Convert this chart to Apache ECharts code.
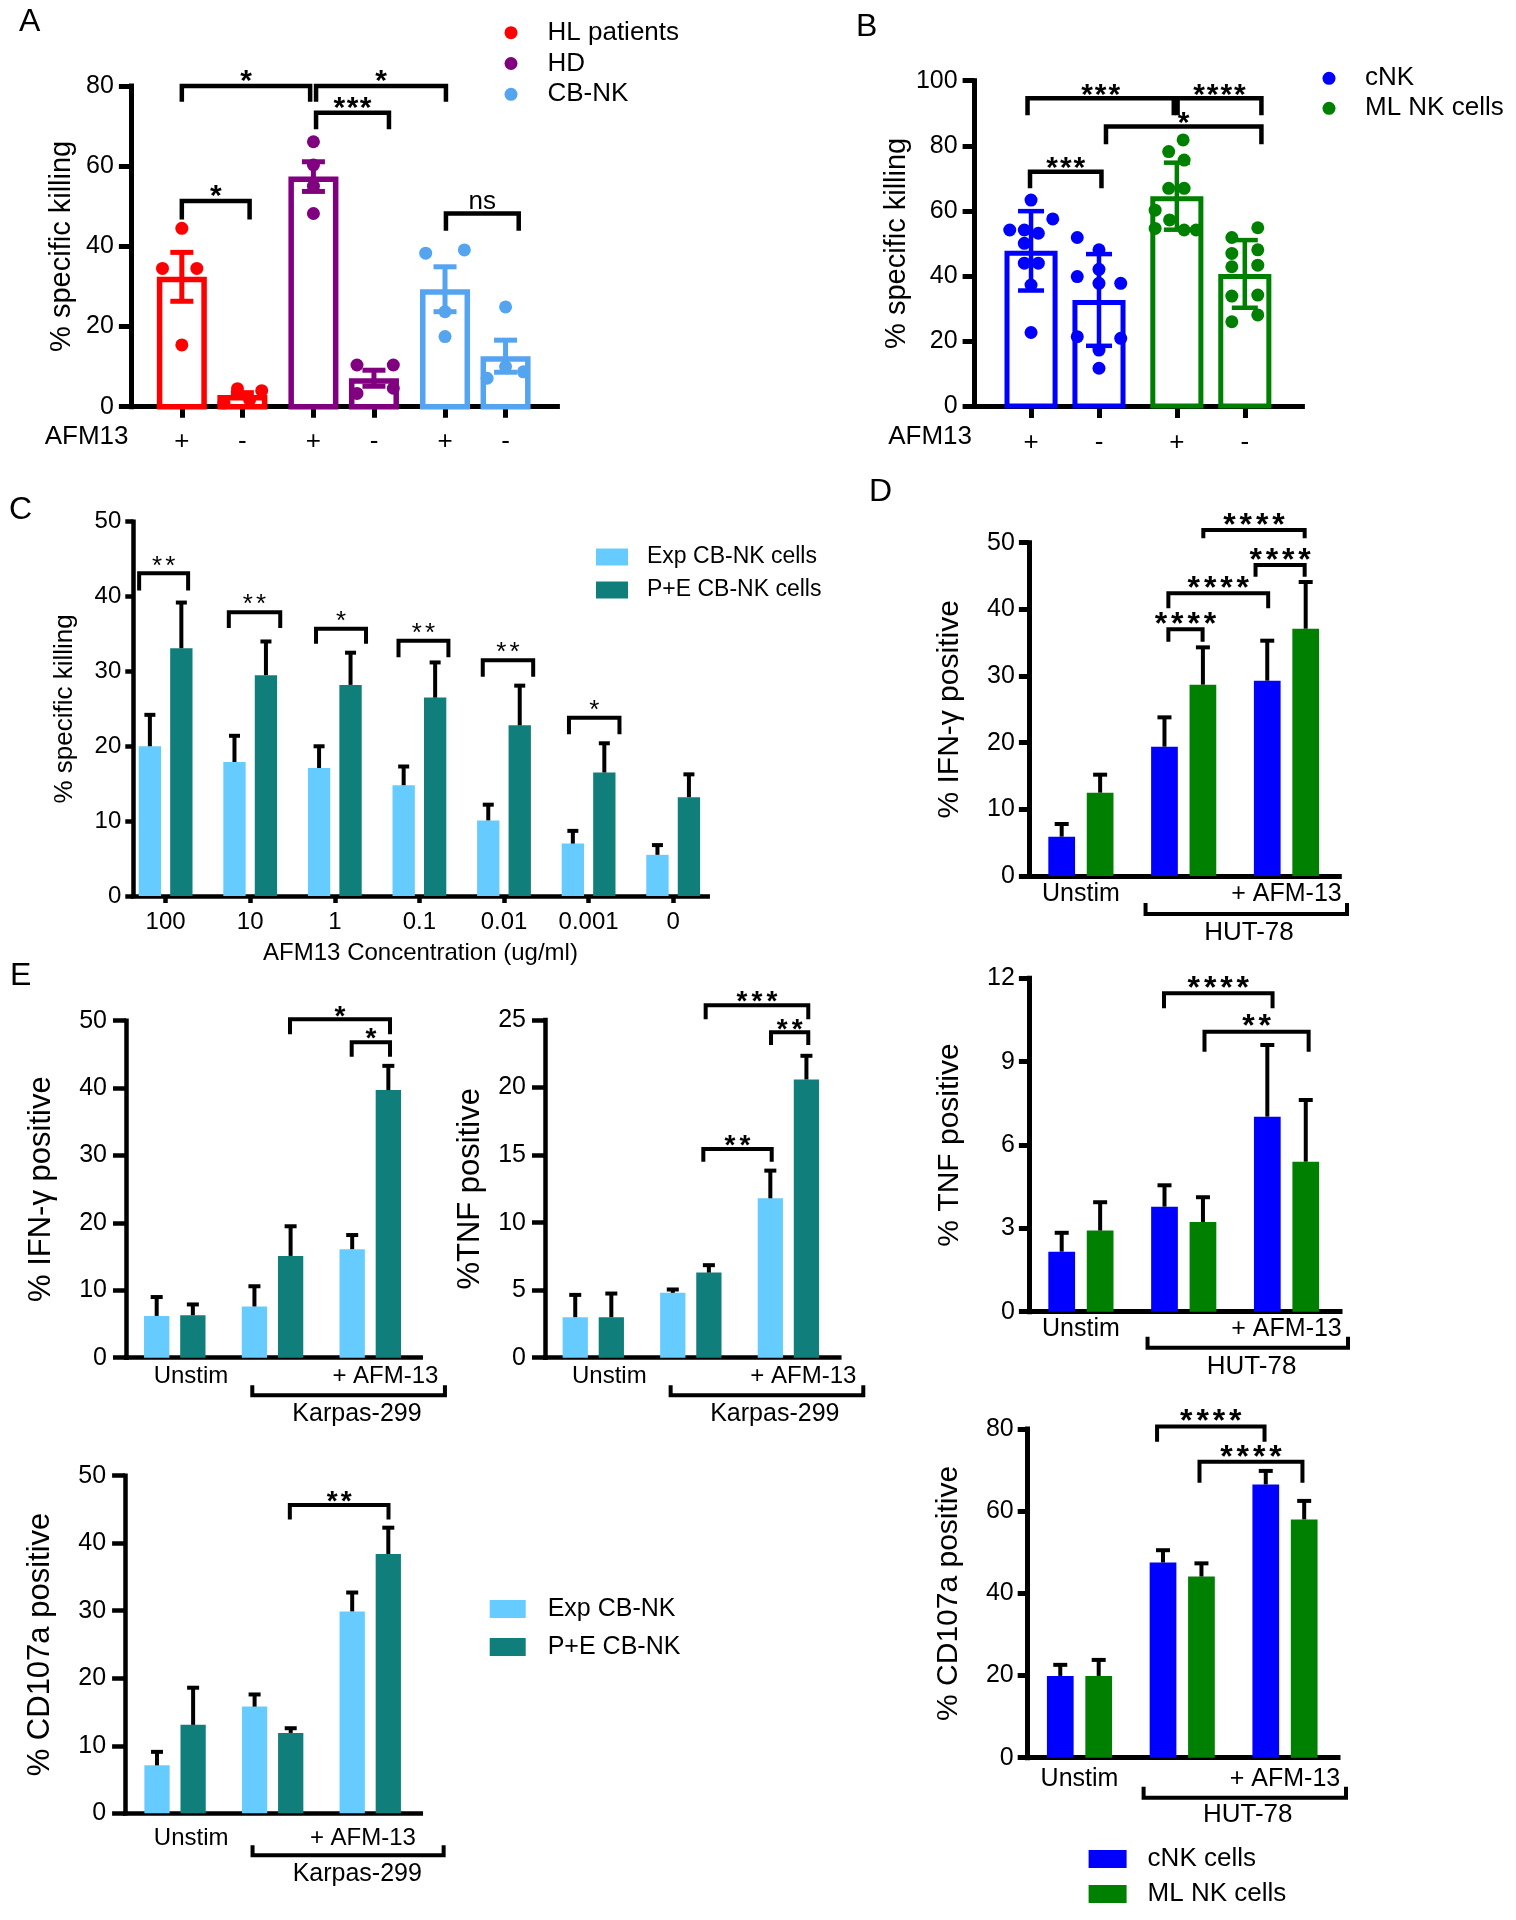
<!DOCTYPE html>
<html><head><meta charset="utf-8">
<script src="https://cdn.jsdelivr.net/npm/echarts@6/dist/echarts.min.js"></script>
<style>html,body{margin:0;padding:0;background:#fff}#c{width:1516px;height:1920px}</style>
</head><body><div id="c"></div>
<script>
// ================= DATA =================
// Panel A
const aGroups = ['HL patients', 'HD', 'CB-NK'];
const aTickText = ['+', '-'];
const aMeans = [[32.4, 2.9], [57.4, 7.1], [29.3, 12.6]];
const aSem = [[6.1, 0.6], [3.7, 2.0], [5.6, 4.0]];
const aPoints = [
  [[44.5, 34.5, 34.5, 15.4], [0.9, 4.5, 1.7, 4.0]],
  [[66.1, 60.3, 55.0, 48.2], [10.4, 10.4, 3.3, 4.6]],
  [[38.3, 39.1, 23.7, 17.5], [24.9, 7.1, 10.0, 8.7]]
];
const aJitter = [
  [[0, -0.147, 0.114, 0], [-0.14, -0.037, 0.055, 0.147]],
  [[0, 0, 0, 0], [-0.129, 0.147, -0.129, 0.147]],
  [[-0.147, 0.147, 0, 0], [0, -0.14, 0, 0.136]]
];
const aSig = [[-0.23, 0.745, 80, 76.1, '*'], [0.79, 1.777, 80, 76.1, '*'], [0.79, 1.344, 73.3, 69.2, '***'], [-0.23, 0.285, 51.3, 46.7, '*'], [1.777, 2.33, 48.2, 43.9, 'ns']];

// Panel B
const bGroups = ['cNK', 'ML NK cells'];
const bTickText = ['+', '-'];
const bMeans = [[47.7, 32.6], [64.5, 40.6]];
const bSd = [[12.2, 14.1], [10.3, 10.4]];
const bPoints = [
  [[63.3, 54.1, 54.1, 57.5, 50.0, 53.1, 43.9, 43.9, 37.2, 22.6], [51.8, 48.0, 39.8, 42.0, 37.7, 37.7, 21.3, 20.8, 17.2, 11.6]],
  [[81.8, 78.2, 75.6, 66.9, 66.9, 60.2, 57.2, 54.6, 54.1, 54.1], [54.8, 51.8, 48.0, 46.9, 43.3, 42.8, 33.8, 34.1, 25.9, 28.0]]
];
const bJitter = [
  [[0, -0.146, -0.046, 0.149, -0.046, 0.05, -0.046, 0.05, 0, 0], [-0.149, 0, -0.149, 0, 0, 0.149, -0.149, 0.149, 0, 0]],
  [[0.043, -0.056, 0.05, -0.056, 0.05, -0.149, -0.05, -0.149, 0.05, 0.132], [0.089, -0.089, 0.089, -0.089, 0.089, -0.089, -0.089, 0.089, -0.089, 0.089]]
];
const bSig = [[-0.257, 0.746, 94.6, 89.4, '***'], [0.772, 1.347, 94.6, 89.4, '****'], [0.281, 1.347, 85.9, 80.5, '*'], [-0.24, 0.25, 72.0, 66.9, '***']];

// Panel C
const cConc = ['100', '10', '1', '0.1', '0.01', '0.001', '0'];
const cSeries = ['Exp CB-NK cells', 'P+E CB-NK cells'];
const cExp = [20.0, 17.9, 17.1, 14.8, 10.1, 7.0, 5.5];
const cExpErr = [4.2, 3.5, 2.9, 2.5, 2.1, 1.7, 1.3];
const cPE = [33.1, 29.5, 28.2, 26.5, 22.8, 16.5, 13.2];
const cPEErr = [6.1, 4.5, 4.3, 4.7, 5.3, 3.9, 3.05];
const cSig = [[-0.313, 0.266, 43.1, 40.8, '**'], [0.747, 1.355, 37.9, 35.8, '**'], [1.778, 2.369, 35.7, 33.7, '*'], [2.753, 3.343, 34.1, 31.9, '**'], [3.749, 4.345, 31.5, 29.3, '**'], [4.768, 5.365, 23.8, 21.6, '*']];

// Panel D (HUT-78 targets)
const dSeries = ['cNK cells', 'ML NK cells'];
const dCats = ['Unstim', '+ AFM-13'];
const dTarget = 'HUT-78';
const dIfnCnk = [5.9, 19.4, 29.3], dIfnCnkErr = [1.9, 4.4, 6.0];
const dIfnMl = [12.5, 28.7, 37.1], dIfnMlErr = [2.7, 5.6, 7.0];
const dTnfCnk = [2.16, 3.78, 7.02], dTnfCnkErr = [0.68, 0.77, 2.58];
const dTnfMl = [2.92, 3.23, 5.40], dTnfMlErr = [1.02, 0.89, 2.22];
const dCdCnk = [19.9, 47.5, 66.5], dCdCnkErr = [2.7, 3.0, 3.3];
const dCdMl = [19.9, 44.1, 58.0], dCdMlErr = [3.9, 3.2, 4.5];
const dIfnSig = [[1.191, 2.177, 51.9, 50.65, '****'], [1.699, 2.177, 46.65, 44.9, '****'], [0.851, 1.822, 42.4, 40.15, '****'], [0.851, 1.184, 37.0, 35.15, '****']];
const dTnfSig = [[0.808, 1.864, 11.46, 10.92, '****'], [1.202, 2.215, 10.08, 9.36, '**']];
const dCdSig = [[0.755, 1.801, 80.6, 76.9, '****'], [1.168, 2.170, 72.0, 66.9, '****']];

// Panel E (Karpas-299 targets)
const eSeries = ['Exp CB-NK', 'P+E CB-NK'];
const eCats = ['Unstim', '+ AFM-13'];
const eTarget = 'Karpas-299';
const eIfnExp = [6.2, 7.6, 16.1], eIfnExpErr = [2.8, 3.0, 2.1];
const eIfnPE = [6.3, 15.1, 39.7], eIfnPEErr = [1.6, 4.4, 3.6];
const eTnfExp = [3.0, 4.8, 11.8], eTnfExpErr = [1.65, 0.25, 2.05];
const eTnfPE = [3.0, 6.3, 20.6], eTnfPEErr = [1.75, 0.55, 1.75];
const eCdExp = [7.1, 15.8, 29.9], eCdExpErr = [2.0, 1.8, 2.8];
const eCdPE = [13.1, 11.9, 38.4], eCdPEErr = [5.5, 0.7, 3.9];
const eIfnSig = [[1.179, 2.202, 50.2, 48.0, '*'], [1.810, 2.202, 46.8, 44.66, '*']];
const eTnfSig = [[1.152, 2.204, 26.1, 25.05, '***'], [1.822, 2.204, 24.09, 23.15, '**'], [1.128, 1.829, 15.45, 14.51, '**']];
const eCdSig = [[1.176, 2.187, 45.66, 43.5, '**']];

// ================= STYLE =================
const FONT = "'Liberation Sans', Arial, Helvetica, sans-serif";
const C_RED = '#ff0000', C_PUR = '#800080', C_LB = '#55a4f0';
const C_BLUE = '#0000ff', C_GREEN = '#008000';
const C_EXP = '#66ccff', C_PE = '#107f7c';

const grids = [], xAxes = [], yAxes = [], series = [], legends = [], graphics = [];

function labelMap(pos, texts) {
  const m = {};
  pos.forEach((p, i) => { m[(+p).toFixed(3)] = texts[i]; });
  return v => (m[(+v).toFixed(3)] !== undefined ? m[(+v).toFixed(3)] : '');
}

function panel(p) {
  const gi = grids.length;
  grids.push({ left: p.grid[0], top: p.grid[1], width: p.grid[2], height: p.grid[3] });
  xAxes.push({
    gridIndex: gi, type: 'value', min: p.xRange[0], max: p.xRange[1],
    splitLine: { show: false },
    axisLine: { show: true, onZero: false, lineStyle: { color: '#000', width: p.axisW, cap: 'square' } },
    axisTick: p.xTicks ? { show: true, customValues: p.xTicks, length: p.xTickLen, lineStyle: { color: '#000', width: p.axisW } } : { show: false },
    axisLabel: { show: true, customValues: p.xLabelPos, formatter: labelMap(p.xLabelPos, p.xLabelText), margin: p.xLabelMargin, color: '#000', fontFamily: FONT, fontSize: p.xLabelSize, hideOverlap: false },
    name: p.xName || '', nameLocation: 'middle', nameGap: p.xNameGap || 0,
    nameTextStyle: { color: '#000', fontFamily: FONT, fontSize: p.xNameSize || 24 }
  });
  yAxes.push({
    gridIndex: gi, type: 'value', min: 0, max: p.yMax, interval: p.yStep,
    splitLine: { show: false },
    axisLine: { show: true, onZero: false, lineStyle: { color: '#000', width: p.axisW, cap: 'square' } },
    axisTick: { show: true, length: p.yTickLen, lineStyle: { color: '#000', width: p.axisW } },
    axisLabel: { margin: p.yLabelMargin, color: '#000', fontFamily: FONT, fontSize: p.yLabelSize },
    name: p.yName, nameLocation: 'middle', nameRotate: 90, nameGap: p.yNameGap,
    nameTextStyle: { color: '#000', fontFamily: FONT, fontSize: p.yNameSize }
  });

  p.series.forEach(s => {
    // bars
    series.push({
      type: 'custom', name: s.name, xAxisIndex: gi, yAxisIndex: gi, z: 2, silent: true, clip: false,
      data: s.values.map((v, i) => [s.pos[i], v]),
      renderItem: (params, api) => {
        const x = api.value(0), v = api.value(1);
        const a = api.coord([x - p.barW / 2, v]), b = api.coord([x + p.barW / 2, 0]);
        if (p.hollow) {
          const lw = p.barLine;
          return { type: 'rect', shape: { x: a[0] + lw / 2, y: a[1] + lw / 2, width: b[0] - a[0] - lw, height: b[1] - a[1] - lw / 2 },
            style: { fill: '#fff', stroke: s.color, lineWidth: lw } };
        }
        return { type: 'rect', shape: { x: a[0], y: a[1], width: b[0] - a[0], height: b[1] - a[1] }, style: { fill: s.color } };
      }
    });
    // error bars
    const ec = p.errColor || s.color;
    series.push({
      type: 'custom', name: s.name, xAxisIndex: gi, yAxisIndex: gi, z: 3, silent: true, clip: false,
      data: s.values.map((v, i) => [s.pos[i], v, s.errors[i]]),
      renderItem: (params, api) => {
        const x = api.value(0), m = api.value(1), e = api.value(2);
        const t = api.coord([x, m + e]), bt = api.coord([x, p.twoSided ? m - e : m]);
        const h = p.capW / 2, st = { stroke: ec, lineWidth: p.errW };
        const ch = [
          { type: 'line', shape: { x1: t[0], y1: t[1], x2: bt[0], y2: bt[1] }, style: st },
          { type: 'line', shape: { x1: t[0] - h, y1: t[1], x2: t[0] + h, y2: t[1] }, style: st }
        ];
        if (p.twoSided) ch.push({ type: 'line', shape: { x1: bt[0] - h, y1: bt[1], x2: bt[0] + h, y2: bt[1] }, style: st });
        return { type: 'group', children: ch };
      }
    });
    // individual points
    if (s.points) {
      const pts = [];
      s.points.forEach((list, i) => list.forEach((v, k) => pts.push([s.pos[i] + s.jitter[i][k], v])));
      series.push({
        type: 'scatter', name: s.name, xAxisIndex: gi, yAxisIndex: gi, z: 4, silent: true,
        symbol: 'circle', symbolSize: p.dot, itemStyle: { color: s.color, opacity: 1 }, data: pts
      });
    }
  });

  // significance brackets
  if (p.sig) {
    series.push({
      type: 'custom', xAxisIndex: gi, yAxisIndex: gi, z: 5, silent: true, clip: false,
      data: p.sig.map(b => [b[0], b[2], b[1], b[3]]),
      renderItem: (params, api) => {
        const b = p.sig[params.dataIndex];
        const a1 = api.coord([b[0], b[2]]), a2 = api.coord([b[1], b[2]]);
        const l1 = api.coord([b[0], b[3]]), l2 = api.coord([b[1], b[3]]);
        const cx = (a1[0] + a2[0]) / 2;
        const children = [
          { type: 'polyline', shape: { points: [l1, a1, a2, l2] }, style: { stroke: '#000', lineWidth: p.brW, fill: 'none', lineJoin: 'miter' } }
        ];
        const mk = (t, x, y, size, weight) => ({ type: 'text', style: { text: t, x: x, y: y,
          fill: '#000', fontFamily: FONT, fontSize: size, fontWeight: weight,
          font: weight + ' ' + size + 'px ' + FONT,
          align: 'center', verticalAlign: 'middle', textAlign: 'center', textVerticalAlign: 'middle' } });
        if (b[4] === 'ns') {
          children.push(mk('ns', cx, a1[1] - p.nsGap, p.nsSize, 'normal'));
        } else {
          const n = b[4].length;
          for (let k = 0; k < n; k++) {
            children.push(mk('*', cx + (k - (n - 1) / 2) * p.starPitch, a1[1] - p.starGap, p.starSize, p.starWeight));
          }
        }
        return { type: 'group', children: children };
      }
    });
  }

  // target-cell bracket beneath the axis
  if (p.target) {
    const t = p.target;
    series.push({
      type: 'custom', xAxisIndex: gi, yAxisIndex: gi, z: 5, silent: true, clip: false,
      data: [[t.from, 0, t.to]],
      renderItem: (params, api) => {
        const a = api.coord([t.from, 0]), b = api.coord([t.to, 0]), c = api.coord([t.textX, 0]);
        const y = a[1] + t.dy;
        return { type: 'group', children: [
          { type: 'polyline', shape: { points: [[a[0], y - t.up], [a[0], y], [b[0], y], [b[0], y - t.up]] },
            style: { stroke: '#000', lineWidth: 4, fill: 'none', lineJoin: 'miter' } },
          { type: 'text', style: { text: t.text, x: c[0], y: a[1] + t.textDy, fill: '#000', fontFamily: FONT, fontSize: t.size,
            font: t.size + 'px ' + FONT, align: 'center', verticalAlign: 'middle', textAlign: 'center', textVerticalAlign: 'middle' } }
        ] };
      }
    });
  }
}

function txt(text, x, y, size, align) {
  graphics.push({ type: 'text', x: x, y: y, silent: true,
    style: { text: text, fill: '#000', font: size + 'px ' + FONT, fontFamily: FONT, fontSize: size,
      align: align || 'left', verticalAlign: 'middle', textAlign: align || 'left', textVerticalAlign: 'middle' } });
}

function legend(names, colors, icon, o) {
  legends.push({
    orient: 'vertical', left: o.left, top: o.top, padding: 0, itemGap: o.gap,
    itemWidth: o.w, itemHeight: o.h, selectedMode: false,
    data: names.map((n, i) => ({ name: n, icon: icon, itemStyle: { color: colors[i] } })),
    textStyle: { color: '#000', fontFamily: FONT, fontSize: o.size, lineHeight: o.size, padding: [0, 0, 0, o.pad || 0] }
  });
}

// ================= PANELS =================
// A
(function () {
  const d = 0.23, cols = [C_RED, C_PUR, C_LB];
  const ticks = [], tickText = [];
  aGroups.forEach((g, i) => { ticks.push(i - d, i + d); tickText.push(aTickText[0], aTickText[1]); });
  panel({
    grid: [130.9, 86, 426.5, 320.7], xRange: [-0.617, 2.624], yMax: 80, yStep: 20,
    axisW: 5, xTicks: ticks, xTickLen: 11, xLabelPos: ticks, xLabelText: tickText, xLabelMargin: 22, xLabelSize: 26,
    yTickLen: 12, yLabelMargin: 17, yLabelSize: 25, yName: '% specific killing', yNameGap: 54, yNameSize: 29,
    hollow: true, barW: 0.38, barLine: 5.5, twoSided: true, capW: 23, errW: 5, dot: 13,
    brW: 4.5, starGap: 4, starSize: 30, starWeight: 'bold', starPitch: 13.2, nsGap: 12, nsSize: 26, sig: aSig,
    series: aGroups.map((g, i) => ({ name: g, color: cols[i], pos: [i - d, i + d], values: aMeans[i], errors: aSem[i], points: aPoints[i], jitter: aJitter[i] }))
  });
  legend(aGroups, cols, 'circle', { left: 504.5, top: 19.7, gap: 4.8, w: 13, h: 13, size: 26, pad: 25 });
  txt('A', 19, 22, 32);
  txt('AFM13', 128.5, 437, 26, 'right');
})();

// B
(function () {
  const d = 0.233, cols = [C_BLUE, C_GREEN];
  const ticks = [], tickText = [];
  bGroups.forEach((g, i) => { ticks.push(i - d, i + d); tickText.push(bTickText[0], bTickText[1]); });
  panel({
    grid: [974.6, 80.7, 327.8, 325.3], xRange: [-0.62, 1.628], yMax: 100, yStep: 20,
    axisW: 5, xTicks: ticks, xTickLen: 12, xLabelPos: ticks, xLabelText: tickText, xLabelMargin: 24, xLabelSize: 26,
    yTickLen: 12, yLabelMargin: 17, yLabelSize: 25, yName: '% specific killing', yNameGap: 58, yNameSize: 29,
    hollow: true, barW: 0.364, barLine: 5, twoSided: true, capW: 26, errW: 4.5, dot: 13,
    brW: 4.5, starGap: 3, starSize: 30, starWeight: 'bold', starPitch: 13.6, sig: bSig,
    series: bGroups.map((g, i) => ({ name: g, color: cols[i], pos: [i - d, i + d], values: bMeans[i], errors: bSd[i], points: bPoints[i], jitter: bJitter[i] }))
  });
  legend(bGroups, cols, 'circle', { left: 1322.5, top: 65.3, gap: 4, w: 13, h: 13, size: 26, pad: 24.5 });
  txt('B', 856, 27, 32);
  txt('AFM13', 972, 437, 26, 'right');
})();

// C
(function () {
  const d = 0.186, pos = cConc.map((c, i) => i);
  panel({
    grid: [133.3, 521.7, 574.4, 374.3], xRange: [-0.382, 6.408], yMax: 50, yStep: 10,
    axisW: 4.5, xTicks: pos, xTickLen: 7, xLabelPos: pos, xLabelText: cConc, xLabelMargin: 14, xLabelSize: 24,
    xName: 'AFM13 Concentration (ug/ml)', xNameGap: 45, xNameSize: 24,
    yTickLen: 8, yLabelMargin: 12, yLabelSize: 24, yName: '% specific killing', yNameGap: 55, yNameSize: 26,
    hollow: false, barW: 0.264, twoSided: false, capW: 11, errColor: '#000', errW: 4,
    brW: 4, starGap: 7, starSize: 26, starWeight: 'normal', starPitch: 13.3, sig: cSig,
    series: [
      { name: cSeries[0], color: C_EXP, pos: pos.map(i => i - d), values: cExp, errors: cExpErr },
      { name: cSeries[1], color: C_PE, pos: pos.map(i => i + d), values: cPE, errors: cPEErr }
    ]
  });
  legend(cSeries, [C_EXP, C_PE], 'rect', { left: 596, top: 545.5, gap: 10, w: 32, h: 17, size: 23, pad: 14 });
  txt('C', 9, 510, 32);
})();

// D panels
function dPanel(grid, xr, yMax, yStep, yName, cnk, cnkErr, ml, mlErr, sig, tgt, mrg) {
  const d = 0.187, pos = [0, 1, 2];
  panel({
    grid: grid, xRange: xr, yMax: yMax, yStep: yStep,
    axisW: 5, xTicks: null, xLabelPos: [0, 2], xLabelText: dCats, xLabelMargin: mrg, xLabelSize: 25,
    yTickLen: 10, yLabelMargin: 14, yLabelSize: 25, yName: yName, yNameGap: 64, yNameSize: 30,
    hollow: false, barW: 0.26, twoSided: false, capW: 14, errColor: '#000', errW: 4,
    brW: 4, starGap: 4, starSize: 32, starWeight: 'bold', starPitch: 16.3, sig: sig,
    target: Object.assign({ text: dTarget, size: 26, up: 11 }, tgt),
    series: [
      { name: dSeries[0], color: C_BLUE, pos: pos.map(i => i - d), values: cnk, errors: cnkErr },
      { name: dSeries[1], color: C_GREEN, pos: pos.map(i => i + d), values: ml, errors: mlErr }
    ]
  });
}
dPanel([1028.9, 542.7, 310.4, 333.3], [-0.506, 2.514], 50, 10, '% IFN-\u03b3 positive', dIfnCnk, dIfnCnkErr, dIfnMl, dIfnMlErr, dIfnSig,
  { from: 0.629, to: 2.589, dy: 38, textX: 1.635, textDy: 57 }, 6);
dPanel([1028.9, 978.3, 311.1, 333.4], [-0.506, 2.52], 12, 3, '% TNF positive', dTnfCnk, dTnfCnkErr, dTnfMl, dTnfMlErr, dTnfSig,
  { from: 0.648, to: 2.598, dy: 36, textX: 1.66, textDy: 55 }, 5);
dPanel([1027.7, 1429, 310.3, 328.7], [-0.504, 2.516], 80, 20, '% CD107a positive', dCdCnk, dCdCnkErr, dCdMl, dCdMlErr, dCdSig,
  { from: 0.624, to: 2.594, dy: 40, textX: 1.637, textDy: 57 }, 9);
legend(dSeries, [C_BLUE, C_GREEN], 'rect', { left: 1088.6, top: 1846, gap: 9, w: 38, h: 18, size: 26, pad: 16 });
txt('D', 869, 492, 32);

// E panels
function ePanel(grid, xr, yMax, yStep, yName, nameGap, exp, expErr, pe, peErr, sig, lblPos, tgt, mrg, pitch) {
  const d = 0.185, pos = [0, 1, 2];
  panel({
    grid: grid, xRange: xr, yMax: yMax, yStep: yStep,
    axisW: 4.5, xTicks: null, xLabelPos: lblPos, xLabelText: eCats, xLabelMargin: mrg, xLabelSize: 24,
    yTickLen: 13, yLabelMargin: 19, yLabelSize: 25, yName: yName, yNameGap: nameGap, yNameSize: 31,
    hollow: false, barW: 0.259, twoSided: false, capW: 12, errColor: '#000', errW: 4,
    brW: 4, starGap: 2.5, starSize: 28, starWeight: 'bold', starPitch: pitch, sig: sig,
    target: Object.assign({ text: eTarget, size: 25, up: 10 }, tgt),
    series: [
      { name: eSeries[0], color: C_EXP, pos: pos.map(i => i - d), values: exp, errors: expErr },
      { name: eSeries[1], color: C_PE, pos: pos.map(i => i + d), values: pe, errors: peErr }
    ]
  });
}
ePanel([126, 1020.7, 294.7, 337], [-0.499, 2.516], 50, 10, '% IFN-\u03b3 positive', 69, eIfnExp, eIfnExpErr, eIfnPE, eIfnPEErr, eIfnSig,
  [0.166, 2.155], { from: 0.793, to: 2.764, dy: 37.5, textX: 1.864, textDy: 56 }, 7, 15);
ePanel([545, 1020, 294.3, 337.7], [-0.495, 2.522], 25, 5, '%TNF positive', 59, eTnfExp, eTnfExpErr, eTnfPE, eTnfPEErr, eTnfSig,
  [0.164, 2.153], { from: 0.793, to: 2.768, dy: 37.5, textX: 1.861, textDy: 56 }, 7, 15);
ePanel([125.1, 1475.7, 295.7, 337.6], [-0.512, 2.518], 50, 10, '% CD107a positive', 69, eCdExp, eCdExpErr, eCdPE, eCdPEErr, eCdSig,
  [0.165, 1.925], { from: 0.794, to: 2.752, dy: 42, textX: 1.867, textDy: 61 }, 13, 14);
legend(eSeries, [C_EXP, C_PE], 'rect', { left: 489.7, top: 1596.5, gap: 13, w: 36, h: 18, size: 25, pad: 17 });
txt('E', 10, 976, 32);

// ================= RENDER =================
const chart = echarts.init(document.getElementById('c'), null, { renderer: 'canvas', width: 1516, height: 1920 });
chart.setOption({
  animation: false,
  backgroundColor: '#fff',
  grid: grids, xAxis: xAxes, yAxis: yAxes, series: series, legend: legends,
  graphic: { elements: graphics }
});
</script>
</body></html>
